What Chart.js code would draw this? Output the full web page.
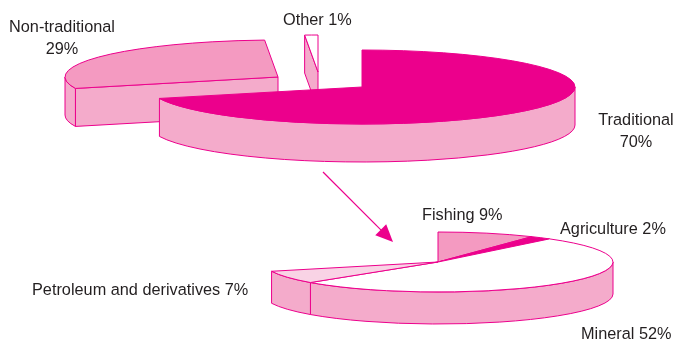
<!DOCTYPE html>
<html><head><meta charset="UTF-8">
<title>Exports by type</title>
<script src="https://cdn.jsdelivr.net/npm/chart.js"></script>
<style>
  body { margin: 0; background: #ffffff; font-family: 'Liberation Sans', Arial, sans-serif; }
  #wrap { position: relative; width: 674px; height: 340px; overflow: hidden; }
  canvas { position: absolute; left: 0; top: 0; }
  .lbl { position: absolute; font-size: 16.3px; line-height: 22px; color: #231f20; white-space: nowrap; }
</style></head><body>
<div id="wrap">
  <canvas id="pieTop" width="674" height="340"></canvas>
  <canvas id="pieBottom" width="674" height="340"></canvas>
</div>
<script>
// data
const exportLabels = ['Traditional', 'Non-traditional', 'Other'];
const exportShares = [70, 29, 1];
const tradLabels = ['Fishing', 'Agriculture', 'Mineral', 'Petroleum and derivatives'];
const tradShares = [9, 2, 52, 7];

// styles / layout
const rim = '#EC008C';
const sideColor = '#F4ABCB';
const topColors = ['#EC008C', '#F49AC1', '#FFFFFF'];
const bottomColors = ['#F49AC1', '#EC008C', '#FFFFFF', '#F9D3E5'];
// [x, cap top, align, break after name]
const topLabelPos = [[636, 113, 'center', true], [62, 20, 'center', true], [283, 13, 'left', false]];
const bottomLabelPos = [[422, 208, 'left'], [560, 222, 'left'], [581, 327, 'left'], [32, 283, 'left']];

function shape(ctx, fill, build) {
  ctx.beginPath();
  build();
  ctx.closePath();
  ctx.fillStyle = fill;
  ctx.fill();
  ctx.strokeStyle = rim;
  ctx.lineWidth = 1;
  ctx.stroke();
}

// draws the pie arcs as flat 3d slices, using the angles chart.js worked out
const pie3d = {
  id: 'pie3d',
  beforeDatasetsDraw(chart, args, o) {
    const ctx = chart.ctx;
    const arcs = chart.getDatasetMeta(0).data;
    const colors = chart.data.datasets[0].backgroundColor;
    const rx = o.rx, ry = o.ry, d = o.depth;
    const sl = arcs.map((a, i) => ({
      i, a1: a.startAngle, a2: a.endAngle,
      x: o.x + o.shift[i][0], y: o.y + o.shift[i][1],
      moved: o.shift[i][0] !== 0 || o.shift[i][1] !== 0
    })).sort((p, q) => p.y - q.y);
    const pt = (s, a, dz) => [s.x + rx * Math.cos(a), s.y + ry * Math.sin(a) + dz];
    const face = (s, a) => shape(ctx, o.side, () => {
      ctx.moveTo(s.x, s.y);
      ctx.lineTo(...pt(s, a, 0));
      ctx.lineTo(...pt(s, a, d));
      ctx.lineTo(s.x, s.y + d);
    });
    sl.forEach(s => {
      if (s.moved && Math.cos(s.a1) < -1e-6) face(s, s.a1);
      if (s.moved && Math.cos(s.a2) > 1e-6) face(s, s.a2);
      const b1 = Math.max(s.a1, 0), b2 = Math.min(s.a2, Math.PI);
      if (b2 > b1) shape(ctx, o.side, () => {
        ctx.ellipse(s.x, s.y, rx, ry, 0, b1, b2);
        ctx.ellipse(s.x, s.y + d, rx, ry, 0, b2, b1, true);
      });
    });
    sl.forEach(s => shape(ctx, colors[s.i], () => {
      ctx.moveTo(s.x, s.y);
      ctx.ellipse(s.x, s.y, rx, ry, 0, s.a1, s.a2);
    }));
    return false;
  },
  afterDraw(chart, args, o) {
    if (!o.arrow) return;
    const ctx = chart.ctx;
    const [x1, y1, x2, y2] = o.arrow;
    const ang = Math.atan2(y2 - y1, x2 - x1);
    ctx.save();
    ctx.strokeStyle = rim;
    ctx.fillStyle = rim;
    ctx.lineWidth = 1.2;
    ctx.beginPath();
    ctx.moveTo(x1, y1);
    ctx.lineTo(x2 - 14 * Math.cos(ang), y2 - 14 * Math.sin(ang));
    ctx.stroke();
    ctx.beginPath();
    ctx.moveTo(x2, y2);
    ctx.lineTo(x2 - 19 * Math.cos(ang - 0.42), y2 - 19 * Math.sin(ang - 0.42));
    ctx.lineTo(x2 - 19 * Math.cos(ang + 0.42), y2 - 19 * Math.sin(ang + 0.42));
    ctx.closePath();
    ctx.fill();
    ctx.restore();
  }
};

function makePie(id, labels, values, colors, extra, pieOpts) {
  return new Chart(document.getElementById(id), {
    type: 'pie',
    data: { labels, datasets: [{ data: values, backgroundColor: colors, borderColor: rim, borderWidth: 1 }] },
    options: Object.assign({
      responsive: false,
      animation: false,
      events: [],
      plugins: { legend: { display: false }, tooltip: { enabled: false }, pie3d: pieOpts }
    }, extra),
    plugins: [pie3d]
  });
}

makePie('pieTop', exportLabels, exportShares, topColors, {}, {
  x: 362, y: 87, rx: 213, ry: 37, depth: 38, side: sideColor,
  shift: [[0, 0], [-84, -10], [-44, -15]],
  arrow: [323, 172, 393, 242]
});

makePie('pieBottom', tradLabels, tradShares, bottomColors, {
  circumference: 360 * tradShares.reduce((a, b) => a + b, 0) / 100
}, {
  x: 438, y: 262, rx: 175, ry: 30, depth: 32, side: sideColor,
  shift: [[0, 0], [0, 0], [0, 0], [0, 0]]
});

// labels
const wrap = document.getElementById('wrap');
function addLabel(text, pos) {
  const el = document.createElement('div');
  el.className = 'lbl';
  el.innerHTML = text;
  el.style.top = (pos[1] - 5) + 'px';
  if (pos[2] === 'center') {
    el.style.left = (pos[0] - 150) + 'px';
    el.style.width = '300px';
    el.style.textAlign = 'center';
  } else {
    el.style.left = pos[0] + 'px';
  }
  wrap.appendChild(el);
}
exportLabels.forEach((name, i) => {
  const p = topLabelPos[i];
  addLabel(name + (p[3] ? '<br>' : ' ') + exportShares[i] + '%', p);
});
tradLabels.forEach((name, i) => addLabel(name + ' ' + tradShares[i] + '%', bottomLabelPos[i]));
</script>
</body></html>
